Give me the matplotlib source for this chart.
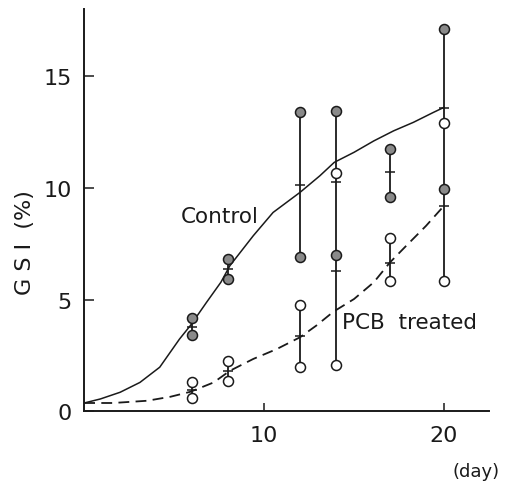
import matplotlib
matplotlib.use('Agg')
import matplotlib.pyplot as plt

# --- data ---
days = [6, 8, 12, 14, 17, 20]

# individual fish (two per sampling day)
control_hi = [4.2, 6.82, 13.37, 13.45, 11.75, 17.1]
control_lo = [3.4, 5.93, 6.93, 7.0, 9.6, 9.94]
control_mean = [3.76, 6.37, 10.13, 10.24, 10.7, 13.56]

treated_hi = [1.34, 2.28, 4.77, 10.65, 7.78, 12.9]
treated_lo = [0.62, 1.38, 2.0, 2.07, 5.85, 5.82]
treated_mean = [0.95, 1.83, 3.36, 6.29, 6.63, 9.17]

# hand-drawn growth curves
control_curve_x = [0, 0.9, 2.0, 3.1, 4.2, 5.3, 5.9, 6.8, 7.6, 8.1, 9.4, 10.5,
                   12.0, 13.1, 13.9, 15.0, 16.1, 17.2, 18.3, 19.4, 20.0]
control_curve_y = [0.38, 0.56, 0.86, 1.3, 1.98, 3.24, 3.84, 4.88, 5.78, 6.52, 7.86, 8.9,
                   9.8, 10.54, 11.14, 11.59, 12.1, 12.55, 12.93, 13.37, 13.6]

treated_curve_x = [0, 1.6, 3.5, 4.8, 5.9, 7.2, 8.1, 9.4, 10.7, 12.0, 12.9, 13.85,
                   15.0, 16.1, 17.0, 17.9, 19.0, 20.0]
treated_curve_y = [0.38, 0.38, 0.48, 0.66, 0.88, 1.3, 1.82, 2.35, 2.79, 3.32, 3.84, 4.46,
                   5.03, 5.78, 6.67, 7.41, 8.3, 9.2]

ink = '#1a1a1a'
fill_grey = '#8a8a8a'

fig = plt.figure(figsize=(5.07, 4.85), dpi=100)
ax = fig.add_axes([0.166, 0.1495, 0.7985, 0.83])

# curves
ax.plot(control_curve_x, control_curve_y, color=ink, linewidth=1.1, zorder=2)
ax.plot(treated_curve_x, treated_curve_y, color=ink, linewidth=1.3,
        linestyle=(0, (6, 3.5)), zorder=2)

# range bars: where the groups overlap, one line spans both
for i, d in enumerate(days):
    if treated_hi[i] > control_lo[i] or d == 20:
        ax.vlines(d, treated_lo[i], control_hi[i], color=ink, linewidth=1.3, zorder=3)
    else:
        ax.vlines(d, control_lo[i], control_hi[i], color=ink, linewidth=1.3, zorder=3)
        ax.vlines(d, treated_lo[i], treated_hi[i], color=ink, linewidth=1.3, zorder=3)

# mean ticks
ax.plot(days, control_mean, linestyle='none', marker='_', markersize=7,
        markeredgewidth=1.1, color=ink, zorder=4)
ax.plot(days, treated_mean, linestyle='none', marker='_', markersize=7,
        markeredgewidth=1.1, color=ink, zorder=4)

# points
for hi, lo, face in [(control_hi, control_lo, fill_grey), (treated_hi, treated_lo, 'white')]:
    ax.plot(days, hi, linestyle='none', marker='o', markersize=7.2,
            markerfacecolor=face, markeredgecolor=ink, markeredgewidth=1.1, zorder=5)
    ax.plot(days, lo, linestyle='none', marker='o', markersize=7.2,
            markerfacecolor=face, markeredgecolor=ink, markeredgewidth=1.1, zorder=5)

ax.set_xlim(0, 22.5)
ax.set_ylim(0, 18.0)
ax.spines['top'].set_visible(False)
ax.spines['right'].set_visible(False)
ax.spines['left'].set_linewidth(1.4)
ax.spines['bottom'].set_linewidth(1.4)
ax.spines['left'].set_color(ink)
ax.spines['bottom'].set_color(ink)

ax.set_xticks([10, 20])
ax.set_yticks([0, 5, 10, 15])
ax.tick_params(axis='y', direction='in', length=7, width=1.1, labelsize=16, pad=9, colors=ink)
ax.tick_params(axis='x', direction='in', length=6, width=1.1, labelsize=16, pad=10, colors=ink)

fig.text(25 / 507, 0.499, 'G S I  (%)', fontsize=16, color=ink, rotation=90,
         ha='center', va='center')

ax.text(7.55, 8.74, 'Control', fontsize=15.5, color=ink, ha='center', va='center')
ax.text(18.1, 4.0, 'PCB  treated', fontsize=15.5, color=ink, ha='center', va='center')
fig.text(500 / 507, 0.027, '(day)', fontsize=13, color=ink, ha='right', va='center')

fig.savefig('out.png', dpi=100)
